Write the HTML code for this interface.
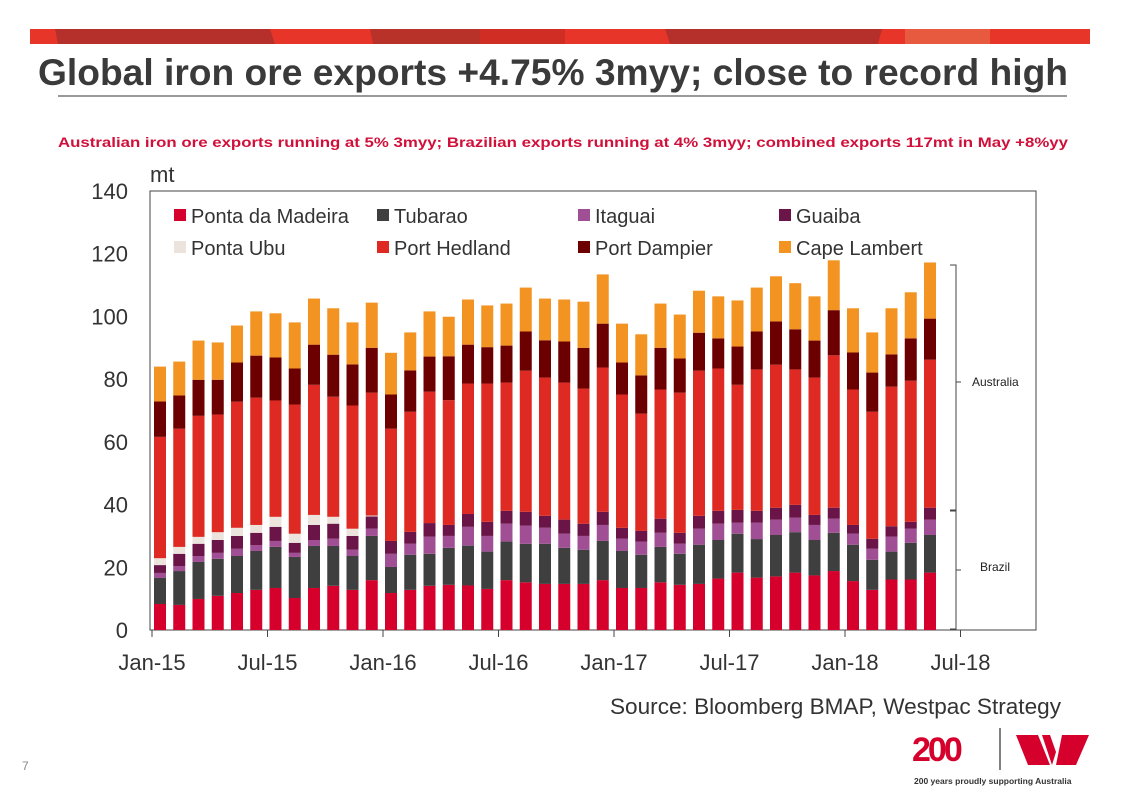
<!DOCTYPE html>
<html><head><meta charset="utf-8">
<style>
body{margin:0;background:#fff;}
svg{display:block;font-family:"Liberation Sans",Arial,sans-serif;}
</style></head>
<body>
<svg id="s" width="1122" height="793" viewBox="0 0 1122 793">
<g>
<rect x="30" y="29" width="1060" height="15" fill="#e8352a"/>
<polygon points="55,29 270,29 275,44 58,44" fill="#b5302a"/>
<polygon points="370,29 480,29 480,44 373,44" fill="#b83229"/>
<rect x="480" y="29" width="85" height="15" fill="#d02e24"/>
<polygon points="665,29 882,29 878,44 670,44" fill="#b5302a"/>
<rect x="905" y="29" width="85" height="15" fill="#e85a40"/>
</g>
<text x="38" y="85" font-size="37" font-weight="bold" fill="#3a3a3a" textLength="1030" lengthAdjust="spacingAndGlyphs">Global iron ore exports +4.75% 3myy; close to record high</text>
<line x1="58" y1="96" x2="1067" y2="96" stroke="#333" stroke-width="1"/>
<text x="58" y="147" font-size="14" font-weight="bold" fill="#d0103a" textLength="1010" lengthAdjust="spacingAndGlyphs">Australian iron ore exports running at 5% 3myy; Brazilian exports running at 4% 3myy; combined exports 117mt in May +8%yy</text>
<text x="150" y="182" font-size="22" fill="#333">mt</text>
<rect x="150" y="191" width="886" height="439" fill="none" stroke="#444" stroke-width="1"/>
<g id="bars"></g>
<g id="axes"></g>
<g id="legend"></g>
<g stroke="#444" fill="none">
<path d="M950,265 H956 V510 H950 M956,382 H961"/>
<path d="M950,511 H956 V629 H950 M956,570 H961"/>
</g>
<text x="972" y="386" font-size="12" fill="#222">Australia</text>
<text x="980" y="571" font-size="12" fill="#222">Brazil</text>
<text x="610" y="714" font-size="22" fill="#333" textLength="451" lengthAdjust="spacingAndGlyphs">Source: Bloomberg BMAP, Westpac Strategy</text>
<text x="22" y="770" font-size="12" fill="#888">7</text>
<g>
<text x="912" y="761" font-size="34" font-weight="bold" fill="#d5002b" letter-spacing="-3">200</text>
<line x1="1000" y1="728" x2="1000" y2="770" stroke="#555" stroke-width="1.5"/>
<polygon points="1016,735 1038,735 1050,765 1028,765" fill="#d5002b"/>
<polygon points="1042,735 1050,735 1056,752 1052,765" fill="#d5002b"/>
<polygon points="1062,735 1089,735 1076,765 1056,765" fill="#d5002b"/>
<text x="914" y="784" font-size="8.5" font-weight="bold" fill="#333">200 years proudly supporting Australia</text>
</g>
</svg>
<script>
const months = ["Jan-15","Feb-15","Mar-15","Apr-15","May-15","Jun-15","Jul-15","Aug-15","Sep-15","Oct-15","Nov-15","Dec-15","Jan-16","Feb-16","Mar-16","Apr-16","May-16","Jun-16","Jul-16","Aug-16","Sep-16","Oct-16","Nov-16","Dec-16","Jan-17","Feb-17","Mar-17","Apr-17","May-17","Jun-17","Jul-17","Aug-17","Sep-17","Oct-17","Nov-17","Dec-17","Jan-18","Feb-18","Mar-18","Apr-18","May-18"];
const seriesNames = ["Ponta da Madeira","Tubarao","Itaguai","Guaiba","Ponta Ubu","Port Hedland","Port Dampier","Cape Lambert"];
const pontaMadeira = [8.3,8.0,9.9,10.9,11.8,12.8,13.4,10.2,13.4,14.1,12.8,15.9,11.8,12.8,14.1,14.4,14.2,13.1,15.9,15.2,14.7,14.7,14.7,15.9,13.4,13.4,15.2,14.4,14.7,16.4,18.3,16.7,17.1,18.3,17.4,18.8,15.6,12.8,16.1,16.1,18.3];
const tubarao = [8.3,10.8,11.8,11.8,11.8,12.4,13.1,13.1,13.4,12.7,10.8,14.1,8.3,11.2,10.2,11.8,12.7,11.9,12.3,12.3,12.8,11.5,10.9,12.5,11.8,10.6,11.3,9.9,12.5,12.3,12.4,12.3,13.2,12.9,11.3,12.2,11.6,9.6,8.9,11.7,12.0];
const itaguai = [1.6,1.6,1.9,1.9,2.3,1.9,1.9,1.3,1.9,2.3,2.0,2.3,4.2,3.5,5.5,3.8,6.0,5.0,5.7,5.8,5.1,4.5,4.4,5.1,3.9,4.2,4.5,3.2,5.1,5.2,3.5,5.2,4.9,4.6,4.8,4.5,3.5,3.5,4.8,4.5,4.9];
const guaiba = [2.5,3.9,3.9,4.1,4.1,3.9,4.5,3.2,4.8,4.8,4.4,3.9,4.1,3.8,4.3,3.5,4.1,4.5,4.1,4.4,3.8,4.5,3.9,4.2,3.5,3.4,4.5,3.5,4.1,4.1,4.1,3.8,3.8,4.1,3.2,3.5,2.8,3.2,3.3,2.2,3.8];
const pontaUbu = [2.2,2.2,2.2,2.5,2.6,2.5,3.2,2.9,3.2,2.2,2.3,0.3,0,0,0,0,0,0,0,0,0,0,0,0,0,0,0,0,0,0,0,0,0,0,0,0,0,0,0,0,0];
const portHedland = [38.7,37.7,38.6,37.5,40.2,40.6,37.1,41.2,41.5,38.3,39.3,39.2,35.8,38.3,41.9,39.8,41.6,44.1,40.9,45.0,44.1,43.7,43.1,46.0,42.5,37.4,41.2,44.7,46.3,45.4,39.9,45.1,45.6,43.2,43.8,48.6,43.2,40.5,44.5,45.0,47.2];
const portDampier = [11.3,10.6,11.5,11.1,12.5,13.4,13.7,11.5,12.8,13.4,13.1,14.3,10.9,13.2,11.2,14.0,12.4,11.6,11.8,12.5,11.9,13.1,13.0,14.0,10.2,12.2,13.3,10.9,12.1,9.6,12.2,12.1,13.8,12.8,11.8,14.4,11.8,12.5,10.3,13.5,13.1];
const capeLambert = [11.1,10.8,12.5,11.9,11.8,14.1,14.1,14.7,14.7,14.8,13.4,14.4,13.3,12.1,14.4,12.6,14.4,13.3,13.4,14.0,13.3,13.4,14.7,15.7,12.4,13.1,14.1,14.0,13.4,13.4,14.7,14.0,14.4,14.7,14.1,15.9,14.1,12.8,14.7,14.7,17.9];
const yTicks = [0,20,40,60,80,100,120,140];
const xTickLabels = ["Jan-15","Jul-15","Jan-16","Jul-16","Jan-17","Jul-17","Jan-18","Jul-18"];

const colors = ["#d5002b","#3f3f3f","#a14f94","#6a1448","#ebe3dc","#de2a22","#6c0000","#f39321"];
const series = [pontaMadeira,tubarao,itaguai,guaiba,pontaUbu,portHedland,portDampier,capeLambert];
const NS="http://www.w3.org/2000/svg";
const y0=630, pxPer=439/140;
const yScale = v => y0 - v*pxPer;
const step = 19.25, x0 = 160;
const xScale = i => x0 + i*step;
const bw = 12;
function mk(tag, attrs, parent){const e=document.createElementNS(NS,tag);for(const k in attrs)e.setAttribute(k,attrs[k]);parent.appendChild(e);return e;}
const bars=document.getElementById('bars');
months.forEach((m,i)=>{
  let cum=0;
  series.forEach((s,j)=>{
    const v=s[i]; if(v<=0){return;}
    const r=mk('rect',{x:(xScale(i)-bw/2).toFixed(2),y:yScale(cum+v).toFixed(2),width:bw,height:(v*pxPer).toFixed(2),fill:colors[j]},bars);
    
    
    cum+=v;
  });
});
const axes=document.getElementById('axes');
yTicks.forEach(t=>{
  const tx=mk('text',{x:128,y:yScale(t)+8,'font-size':22,fill:'#333','text-anchor':'end'},axes);
  tx.textContent=t;
  
  
});
xTickLabels.forEach((l,k)=>{
  const x=xScale(k*6)-8;
  const ln=mk('line',{x1:x,y1:630,x2:x,y2:637,stroke:'#444'},axes);
  
  
  const tx=mk('text',{x:x,y:670,'font-size':22,fill:'#333','text-anchor':'middle'},axes);
  tx.textContent=l;
  
  
});
const legend=document.getElementById('legend');
const lx=[174,377,578,779], ly=[216,248];
seriesNames.forEach((n,j)=>{
  const x=lx[j%4], y=ly[Math.floor(j/4)];
  const g=mk('g',{},legend);
  
  
  mk('rect',{x:x,y:y-7,width:12,height:12,fill:colors[j]},g);
  const t=mk('text',{x:x+17,y:y+7,'font-size':20,fill:'#333'},g);
  t.textContent=n;
});
</script>
</body></html>
